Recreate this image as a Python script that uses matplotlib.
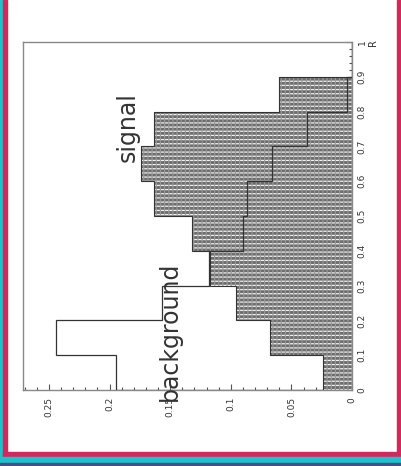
import numpy as np
import matplotlib
matplotlib.use("Agg")
import matplotlib.pyplot as plt
from matplotlib.patches import Rectangle
from matplotlib.ticker import MultipleLocator

# histogram bins in R
r_edges = [0.0, 0.1, 0.2, 0.3, 0.4, 0.5, 0.6, 0.7, 0.8, 0.9, 1.0]
signal = [0.024, 0.068, 0.096, 0.117, 0.132, 0.163, 0.174, 0.163, 0.060, 0.0]
background = [0.195, 0.244, 0.157, 0.118, 0.090, 0.087, 0.066, 0.037, 0.004, 0.0]

value_ticks = [0, 0.05, 0.1, 0.15, 0.2, 0.25]
value_labels = ["0", "0.05", "0.1", "0.15", "0.2", "0.25"]
r_ticks = [0, 0.1, 0.2, 0.3, 0.4, 0.5, 0.6, 0.7, 0.8, 0.9, 1.0]
r_labels = ["0", "0.1", "0.2", "0.3", "0.4", "0.5", "0.6", "0.7", "0.8", "0.9", "1"]

plt.rcParams["hatch.linewidth"] = 0.9

W, H = 401, 466
fig = plt.figure(figsize=(W / 100, H / 100), dpi=100)
fig.patch.set_facecolor("white")

# coloured frame round the picture
def px_rect(x0, y0, x1, y1, color):
    fig.patches.append(Rectangle((x0 / W, 1 - y1 / H), (x1 - x0) / W, (y1 - y0) / H,
                                 transform=fig.transFigure, color=color, zorder=0))

px_rect(0, 0, 3, 466, "#1cc3cb")
px_rect(3, 0, 7, 457, "#d3285c")
px_rect(397, 0, 401, 457, "#d3285c")
px_rect(3, 452, 401, 457, "#d3285c")
px_rect(0, 457, 401, 463, "#1cc3cb")
px_rect(0, 463, 401, 466, "#4b4d84")

ax = fig.add_axes([23 / W, 1 - 390 / H, 329 / W, 348 / H])
ax.set_facecolor("white")

# signal: filled, patterned (grey ground, rows of white dashes)
ax.stairs(signal, r_edges, orientation="horizontal", fill=True,
          facecolor="#6c6c6c", edgecolor="none", zorder=2)
ax.stairs(signal, r_edges, orientation="horizontal", fill=True,
          facecolor="none", edgecolor="#f4f4f4", hatch="----", linewidth=0, zorder=3)
ax.stairs(signal, r_edges, orientation="horizontal", fill=True,
          facecolor="none", edgecolor="#9a9a9a", hatch="||||", linewidth=0, zorder=3)
ax.stairs(signal, r_edges, orientation="horizontal", color="#333333",
          linewidth=0.8, zorder=4)

# background: outline only
ax.stairs(background, r_edges, orientation="horizontal", color="#333333",
          linewidth=0.9, zorder=5)

ax.set_xlim(0.2714, 0)
ax.set_ylim(0, 1)

for s in ax.spines.values():
    s.set_color("#888888")
    s.set_linewidth(1.0)

ax.xaxis.tick_bottom()
ax.yaxis.tick_right()
ax.set_xticks(value_ticks)
ax.set_xticklabels(value_labels, rotation=90, va="top", ha="center")
ax.set_yticks(r_ticks)
ax.set_yticklabels(r_labels, rotation=90, va="center", ha="left")
ax.xaxis.set_minor_locator(MultipleLocator(0.01))
ax.yaxis.set_minor_locator(MultipleLocator(0.02))
ax.tick_params(which="major", direction="in", length=4.5, width=0.8,
               color="#555555", labelsize=6.5, labelcolor="#333333")
ax.tick_params(which="minor", direction="in", length=2.2, width=0.8, color="#555555")
ax.tick_params(axis="x", which="both", pad=5)
ax.tick_params(axis="y", which="both", pad=4)

fig.text(373 / W, 1 - 43 / H, "R", rotation=90, ha="center", va="center",
         fontsize=7, color="#333333")

ax.text(0.185, 0.756, "signal", rotation=90, ha="center", va="center",
        fontsize=17, color="#333333", zorder=6)
ax.text(0.150, 0.17, "background", rotation=90, ha="center", va="center",
        fontsize=17, color="#333333", zorder=6)

fig.savefig("out.png", dpi=100)
